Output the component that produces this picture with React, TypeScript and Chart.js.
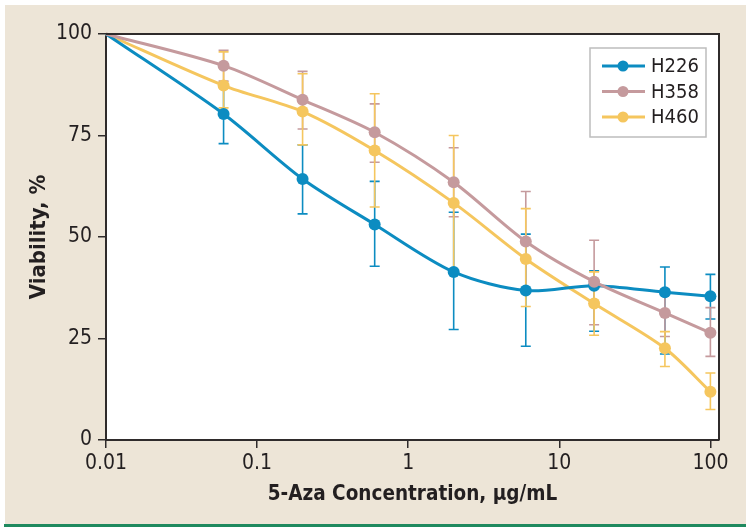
import React, { useEffect, useRef } from "react";
import { Chart, registerables } from "chart.js";

Chart.register(...registerables);

// ---- Data ----
const concentrations = [0.01, 0.06, 0.2, 0.6, 2, 6, 17, 50, 100];
const xTickValues = [0.01, 0.1, 1, 10, 100];
const xTickLabels = ["0.01", "0.1", "1", "10", "100"];
const yTickValues = [0, 25, 50, 75, 100];

const seriesNames = ["H226", "H358", "H460"];
const seriesColors = ["#0C8CC1", "#C59A9D", "#F5C65E"];

const h226 = [100, 80.3, 64.3, 53.1, 41.4, 36.8, 38.0, 36.4, 35.4];
const h226Upper = [null, 87.6, 72.7, 63.7, 56.1, 50.7, 41.7, 42.6, 40.8];
const h226Lower = [null, 73.0, 55.7, 42.8, 27.2, 23.1, 26.8, 21.2, 29.8];

const h358 = [100, 92.2, 83.8, 75.8, 63.5, 48.9, 39.0, 31.3, 26.4];
const h358Upper = [null, 96.0, 90.8, 82.8, 72.0, 61.2, 49.2, 37.1, 32.6];
const h358Lower = [null, 88.4, 76.6, 68.4, 55.0, 36.6, 28.4, 25.5, 20.6];

const h460 = [100, 87.3, 80.9, 71.3, 58.4, 44.6, 33.6, 22.6, 11.9];
const h460Upper = [null, 95.6, 90.2, 85.3, 75.0, 57.0, 41.4, 26.7, 16.5];
const h460Lower = [null, 81.8, 72.7, 57.4, 41.8, 32.9, 25.8, 18.1, 7.5];

const seriesValues = [h226, h358, h460];
const seriesUpper = [h226Upper, h358Upper, h460Upper];
const seriesLower = [h226Lower, h358Lower, h460Lower];
const seriesOrder = [1, 0, 2];

const FONT = "'Liberation Sans Narrow', 'DejaVu Sans Condensed', 'Liberation Sans', sans-serif";
const TEXT = "#231f20";
const AXIS = "#2f2b2b";

const plotBackgroundPlugin = {
  id: "plotBackground",
  beforeDraw(chart: any) {
    const { ctx, chartArea } = chart;
    ctx.save();
    ctx.fillStyle = "#ffffff";
    ctx.fillRect(chartArea.left, chartArea.top, chartArea.right - chartArea.left, chartArea.bottom - chartArea.top);
    ctx.restore();
  },
};

const errorBarPlugin = {
  id: "errorBars",
  beforeDatasetsDraw(chart: any) {
    const { ctx } = chart;
    const x = chart.scales.x;
    const y = chart.scales.y;
    chart.data.datasets.forEach((ds: any) => {
      ctx.save();
      ctx.strokeStyle = ds.borderColor;
      ctx.lineWidth = 1.6;
      ds.data.forEach((pt: any, i: number) => {
        const up = ds.errUpper[i];
        const lo = ds.errLower[i];
        if (up == null || lo == null) return;
        const px = x.getPixelForValue(pt.x);
        const p1 = y.getPixelForValue(up);
        const p2 = y.getPixelForValue(lo);
        ctx.beginPath();
        ctx.moveTo(px, p1);
        ctx.lineTo(px, p2);
        ctx.moveTo(px - 5, p1);
        ctx.lineTo(px + 5, p1);
        ctx.moveTo(px - 5, p2);
        ctx.lineTo(px + 5, p2);
        ctx.stroke();
      });
      ctx.restore();
    });
  },
};

const framePlugin = {
  id: "frame",
  afterDraw(chart: any) {
    const { ctx, chartArea } = chart;
    ctx.save();
    ctx.strokeStyle = AXIS;
    ctx.lineWidth = 2;
    ctx.beginPath();
    ctx.moveTo(chartArea.left, chartArea.top);
    ctx.lineTo(chartArea.right, chartArea.top);
    ctx.lineTo(chartArea.right, chartArea.bottom);
    ctx.stroke();
    ctx.restore();
  },
};

const legendPlugin = {
  id: "boxLegend",
  afterDraw(chart: any) {
    const { ctx, chartArea } = chart;
    const w = 116;
    const h = 89;
    const bx = chartArea.right - 13 - w;
    const by = chartArea.top + 14;
    ctx.save();
    ctx.fillStyle = "#ffffff";
    ctx.fillRect(bx, by, w, h);
    ctx.strokeStyle = "#bdbdbd";
    ctx.lineWidth = 1.5;
    ctx.strokeRect(bx, by, w, h);
    seriesNames.forEach((name, i) => {
      const cy = by + 18 + i * 25.5;
      ctx.strokeStyle = seriesColors[i];
      ctx.lineWidth = 3;
      ctx.beginPath();
      ctx.moveTo(bx + 12, cy);
      ctx.lineTo(bx + 55, cy);
      ctx.stroke();
      ctx.fillStyle = seriesColors[i];
      ctx.beginPath();
      ctx.arc(bx + 33, cy, 5.5, 0, Math.PI * 2);
      ctx.fill();
      ctx.fillStyle = TEXT;
      ctx.font = `20px ${FONT}`;
      ctx.textBaseline = "middle";
      ctx.textAlign = "left";
      ctx.fillText(name, bx + 61, cy + 1);
    });
    ctx.restore();
  },
};

export default function App() {
  const canvasRef = useRef<HTMLCanvasElement | null>(null);

  useEffect(() => {
    const canvas = canvasRef.current;
    if (!canvas) return;
    const datasets = seriesNames.map((name, s) => ({
      label: name,
      data: concentrations.map((c, i) => ({ x: c, y: seriesValues[s][i] })),
      errUpper: seriesUpper[s],
      errLower: seriesLower[s],
      borderColor: seriesColors[s],
      backgroundColor: seriesColors[s],
      pointBackgroundColor: seriesColors[s],
      pointBorderColor: seriesColors[s],
      borderWidth: 3,
      pointRadius: concentrations.map((_, i) => (i === 0 ? 0 : 6)),
      pointBorderWidth: 0,
      tension: 0.3,
      clip: false,
      order: seriesOrder[s],
    }));

    const chart = new Chart(canvas, {
      type: "line",
      data: { datasets } as any,
      options: {
        animation: false,
        responsive: false,
        devicePixelRatio: 1,
        layout: { padding: { top: 34, right: 31, left: 0, bottom: 0 } },
        plugins: { legend: { display: false }, tooltip: { enabled: false } },
        scales: {
          x: {
            type: "logarithmic",
            min: 0.01,
            max: 114,
            afterBuildTicks: (s: any) => {
              s.ticks = xTickValues.map((v) => ({ value: v }));
            },
            afterFit: (s: any) => {
              s.height = 92;
            },
            ticks: {
              autoSkip: false,
              maxRotation: 0,
              padding: 3,
              color: TEXT,
              font: { family: FONT, size: 21 },
              callback: (_v: any, i: number) => xTickLabels[i],
            },
            grid: { drawOnChartArea: false, drawTicks: true, tickLength: 8, color: AXIS, lineWidth: 1.5 },
            border: { display: true, color: AXIS, width: 2 },
            title: {
              display: true,
              text: "5-Aza Concentration, µg/mL",
              color: TEXT,
              font: { family: FONT, size: 20.5, weight: "bold" },
              padding: { top: 0, bottom: 25 },
            },
          },
          y: {
            type: "linear",
            min: 0,
            max: 100,
            afterBuildTicks: (s: any) => {
              s.ticks = yTickValues.map((v) => ({ value: v }));
            },
            afterFit: (s: any) => {
              s.width = 106;
            },
            ticks: {
              padding: 6,
              color: TEXT,
              font: { family: FONT, size: 21 },
            },
            grid: { drawOnChartArea: false, drawTicks: true, tickLength: 8, color: AXIS, lineWidth: 1.5 },
            border: { display: true, color: AXIS, width: 2 },
            title: {
              display: true,
              text: "Viability, %",
              color: TEXT,
              font: { family: FONT, size: 22, weight: "bold" },
              padding: { top: 26, bottom: 0 },
            },
          },
        },
      } as any,
      plugins: [plotBackgroundPlugin, errorBarPlugin, framePlugin, legendPlugin],
    });
    return () => chart.destroy();
  }, []);

  return (
    <div style={{ position: "fixed", left: 0, top: 0, width: 750, height: 532, background: "#ffffff" }}>
      <div style={{ position: "absolute", left: 5, top: 5, width: 741, height: 519, background: "#EDE5D7" }} />
      <div style={{ position: "absolute", left: 4, top: 524, width: 742, height: 3, background: "#1F8A5F" }} />
      <canvas ref={canvasRef} width={750} height={532} style={{ position: "absolute", left: 0, top: 0, width: 750, height: 532 }} />
    </div>
  );
}
